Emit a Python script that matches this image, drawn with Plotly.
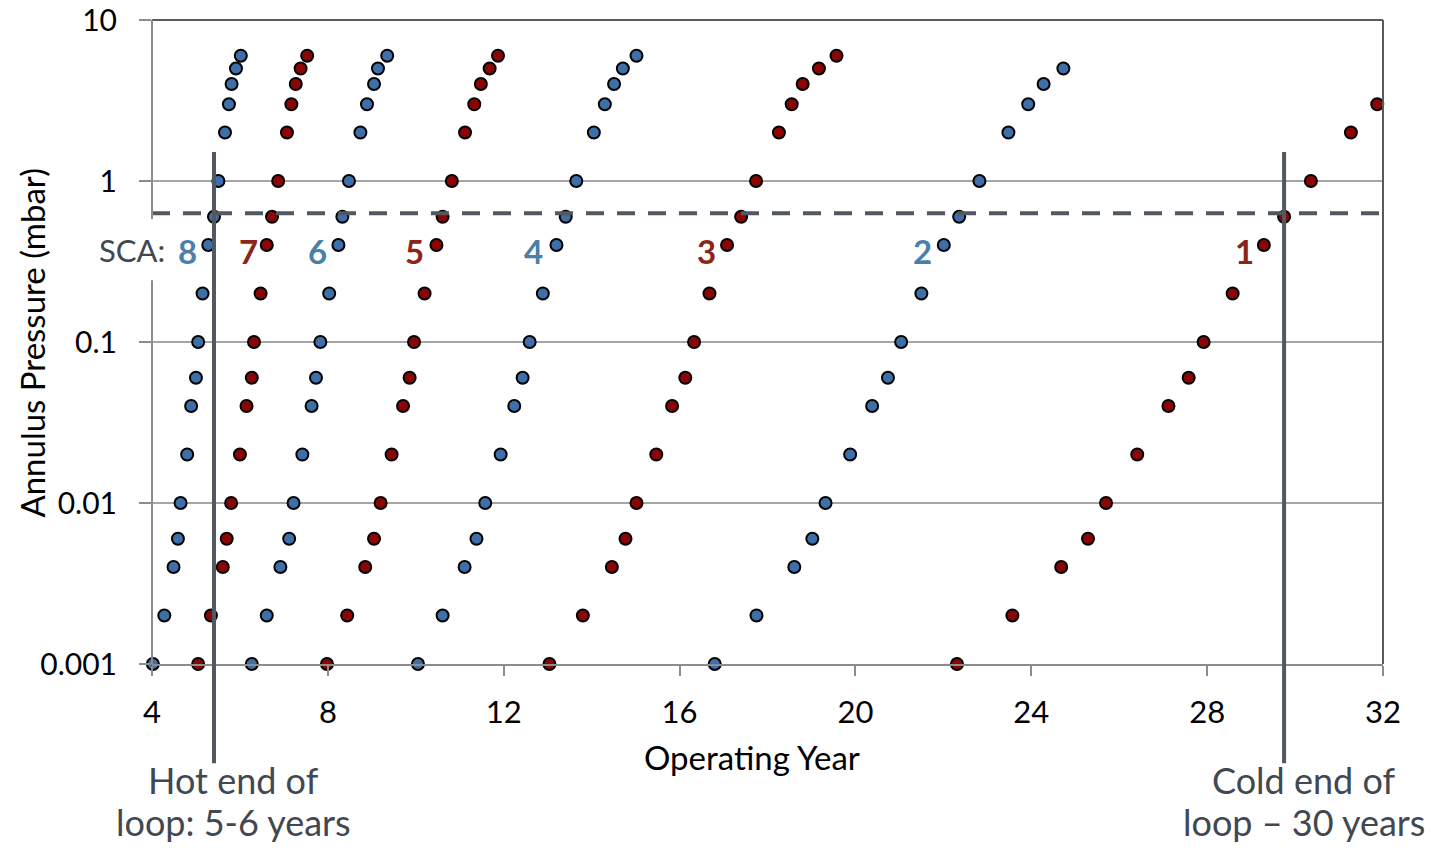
import math
import plotly.graph_objects as go

# ---- data ----
pressure_levels = [0.001, 0.002, 0.004, 0.006, 0.01, 0.02, 0.04, 0.06, 0.1,
                   0.2, 0.4, 0.6, 1, 2, 3, 4, 5, 6]

sca8_years = [4.02, 4.28, 4.49, 4.59, 4.65, 4.80, 4.89, 5.00, 5.05, 5.15,
              5.28, 5.41, 5.51, 5.66, 5.75, 5.81, 5.91, 6.02]
sca7_years = [5.05, 5.34, 5.61, 5.70, 5.80, 6.00, 6.15, 6.27, 6.32, 6.47,
              6.61, 6.73, 6.87, 7.07, 7.17, 7.27, 7.38, 7.53]
sca6_years = [6.27, 6.61, 6.92, 7.12, 7.22, 7.42, 7.63, 7.73, 7.83, 8.03,
              8.24, 8.33, 8.48, 8.74, 8.89, 9.05, 9.14, 9.35]
sca5_years = [7.98, 8.44, 8.85, 9.05, 9.20, 9.45, 9.71, 9.86, 9.96, 10.20,
              10.47, 10.61, 10.82, 11.12, 11.33, 11.48, 11.68, 11.87]
sca4_years = [10.05, 10.61, 11.11, 11.38, 11.58, 11.93, 12.24, 12.43, 12.59, 12.89,
              13.20, 13.41, 13.65, 14.05, 14.30, 14.51, 14.71, 15.02]
sca3_years = [13.04, 13.80, 14.46, 14.77, 15.02, 15.47, 15.83, 16.13, 16.33, 16.68,
              17.08, 17.40, 17.74, 18.26, 18.55, 18.80, 19.17, 19.57]
sca2_years = [16.80, 17.75, 18.61, 19.02, 19.32, 19.88, 20.38, 20.74, 21.04, 21.50,
              22.01, 22.36, 22.82, 23.48, 23.93, 24.28, 24.73]
sca1_years = [22.31, 23.57, 24.68, 25.29, 25.70, 26.41, 27.12, 27.58, 27.92, 28.58,
              29.29, 29.75, 30.36, 31.27, 31.87]

series = [("8", sca8_years, "blue"), ("7", sca7_years, "red"),
          ("6", sca6_years, "blue"), ("5", sca5_years, "red"),
          ("4", sca4_years, "blue"), ("3", sca3_years, "red"),
          ("2", sca2_years, "blue"), ("1", sca1_years, "red")]

sca_label_names = ["8", "7", "6", "5", "4", "3", "2", "1"]
sca_label_x = [4.80, 6.20, 7.77, 9.98, 12.68, 16.61, 21.52, 28.84]
sca_label_colors = ["blue", "red", "blue", "red", "blue", "red", "blue", "red"]
sca_label_y = 0.367

threshold_pressure = 0.63
hot_end_year = 5.41
cold_end_year = 29.75

x_ticks = [4, 8, 12, 16, 20, 24, 28, 32]
y_ticks = [0.001, 0.01, 0.1, 1, 10]
y_tick_text = ["0.001", "0.01", "0.1", "1", "10"]

# ---- style ----
FILL = {"blue": "#3F6FA8", "red": "#8A0606"}
LABEL = {"blue": "#4A7FAA", "red": "#8E2318"}
FONT = "Lato, 'Open Sans', sans-serif"
TEXT_GRAY = "#414851"
LINE_DARK = "#525861"
Y_MIN, Y_MAX = -3, 1


def ypaper(v):
    return (math.log10(v) - Y_MIN) / (Y_MAX - Y_MIN)


fig = go.Figure()
for name, xs, col in series:
    fig.add_trace(go.Scatter(
        x=xs, y=pressure_levels[:len(xs)], mode="markers", name="SCA " + name,
        cliponaxis=False,
        marker=dict(size=12, color=FILL[col], line=dict(color="black", width=2)),
        showlegend=False, hoverinfo="x+y"))

shapes = []
# threshold dashed line
shapes.append(dict(type="line", xref="paper", yref="paper", x0=0, x1=0.997,
                   y0=ypaper(threshold_pressure), y1=ypaper(threshold_pressure),
                   line=dict(color=LINE_DARK, width=4, dash="18px,13px"), layer="above"))
# hot / cold end vertical lines
for yr in (hot_end_year, cold_end_year):
    shapes.append(dict(type="line", xref="x", yref="paper", x0=yr, x1=yr,
                       y0=-0.154, y1=0.795,
                       line=dict(color=LINE_DARK, width=4), layer="above"))
# frame: top and right border
shapes.append(dict(type="line", xref="paper", yref="paper", x0=0, x1=1, y0=1, y1=1,
                   line=dict(color="#5A5A5A", width=2), layer="above"))
shapes.append(dict(type="line", xref="paper", yref="paper", x0=1, x1=1, y0=0, y1=1,
                   line=dict(color="#5A5A5A", width=2), layer="above"))
# left axis line (interrupted by the SCA: label)
shapes.append(dict(type="line", xref="paper", yref="paper", x0=0, x1=0, y0=1, y1=0.691,
                   line=dict(color="#8C8C8C", width=2), layer="above"))
shapes.append(dict(type="line", xref="paper", yref="paper", x0=0, x1=0, y0=0.596, y1=0,
                   line=dict(color="#8C8C8C", width=2), layer="above"))

annotations = []
for nm, xv, col in zip(sca_label_names, sca_label_x, sca_label_colors):
    annotations.append(dict(x=xv, y=math.log10(sca_label_y), xref="x", yref="y",
                            text="<b>" + nm + "</b>", showarrow=False,
                            font=dict(family=FONT, size=33, color=LABEL[col]),
                            xanchor="center", yanchor="middle"))


def note(text, x, y, size, color, angle=0):
    annotations.append(dict(x=x, y=y, xref="paper", yref="paper", text=text,
                            showarrow=False, textangle=angle,
                            font=dict(family=FONT, size=size, color=color),
                            xanchor="center", yanchor="middle"))


note("SCA:", -0.0162, 0.643, 31, TEXT_GRAY)
note("Operating Year", 0.4874, -0.1444, 33, "black")
note("Annulus Pressure (mbar)", -0.0975, 0.499, 33, "black", -90)
note("Hot end of", 0.0666, -0.1801, 36, TEXT_GRAY)
note("loop: 5-6 years", 0.0666, -0.2453, 36, TEXT_GRAY)
note("Cold end of", 0.9358, -0.1801, 36, TEXT_GRAY)
note("loop \u2013 30 years", 0.9358, -0.2453, 36, TEXT_GRAY)

fig.update_layout(
    width=1435, height=851,
    margin=dict(l=152, r=52, t=20, b=187, autoexpand=False),
    paper_bgcolor="white", plot_bgcolor="white",
    font=dict(family=FONT, size=30, color="black"),
    shapes=shapes, annotations=annotations,
    xaxis=dict(range=[4, 32], tickvals=x_ticks, ticktext=[str(t) for t in x_ticks],
               automargin=False, ticklabeloverflow="allow",
               showgrid=False, zeroline=False, showline=True, linecolor="#8C8C8C",
               linewidth=2, ticks="outside", ticklen=10, tickwidth=2, tickcolor="#8C8C8C",
               ticklabelstandoff=10, tickfont=dict(family=FONT, size=31, color="black")),
    yaxis=dict(type="log", range=[Y_MIN, Y_MAX], tickvals=y_ticks, ticktext=y_tick_text,
               automargin=False, ticklabeloverflow="allow",
               showgrid=True, gridcolor="#A6A6A6", gridwidth=2, zeroline=False,
               showline=False, ticks="outside", ticklen=12, tickwidth=2,
               tickcolor="#8C8C8C", ticklabelstandoff=16,
               tickfont=dict(family=FONT, size=30, color="black")),
)

fig.write_html("out.html", config={"displayModeBar": False},
               post_script="document.body.style.margin='0px';"
                           "document.body.style.overflow='hidden';")
